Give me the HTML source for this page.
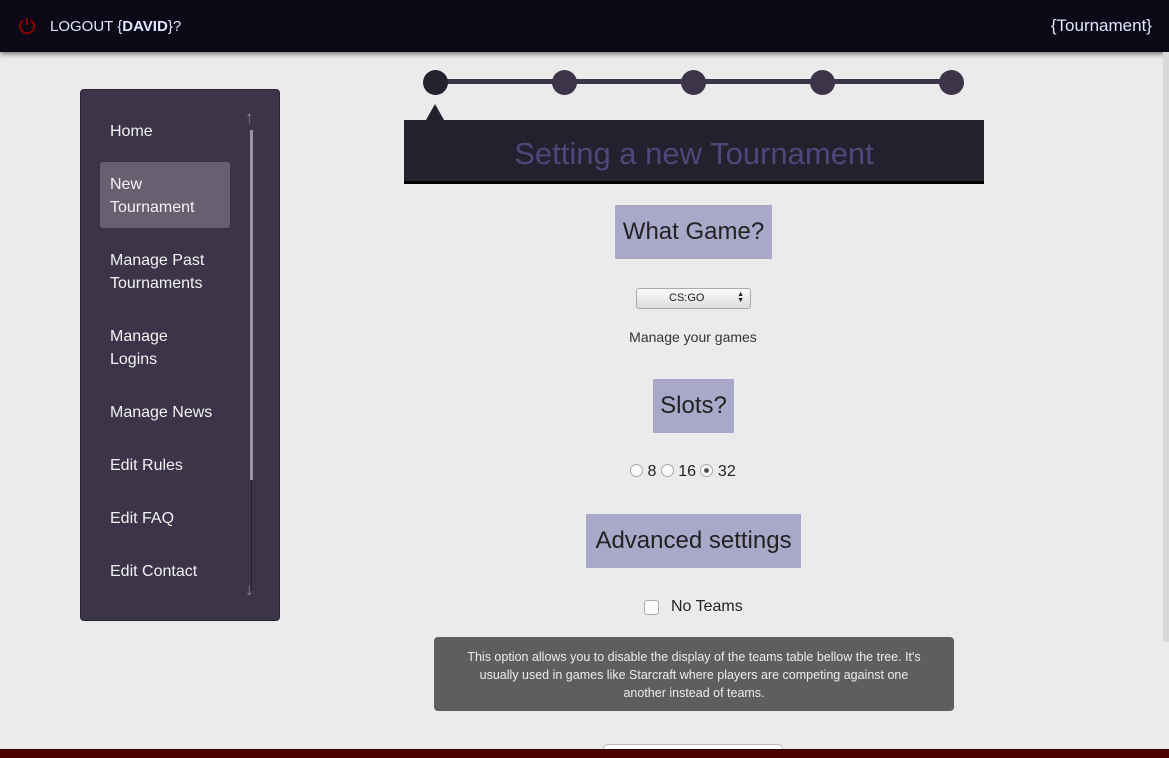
<!DOCTYPE html>
<html><head><style>
*{margin:0;padding:0;box-sizing:border-box}
body{width:1169px;height:758px;overflow:hidden;position:relative;background:#ebebeb;font-family:"Liberation Sans",sans-serif;}
.top{position:absolute;left:0;top:0;width:1169px;height:52px;background:#0b0916;box-shadow:0 2px 5px rgba(0,0,0,.5);color:#dfe6ff;font-size:15px}
.side{position:absolute;left:80px;top:89px;width:200px;height:532px;background:#3c3549;border-radius:4px;border:1px solid #2a2433}
.it{position:absolute;left:29px;color:#f2f2f2;font-size:16px;line-height:23px}
.dot{position:absolute;top:70px;width:25px;height:25px;border-radius:50%;background:#3c3549}
.lbl{position:absolute;background:#a9a8c8;color:#222;font-size:24px;text-align:center}
</style></head><body>
<div class="top">
<svg style="position:absolute;left:17px;top:16px" width="20" height="20" viewBox="0 0 20 20"><path d="M6 4.5A7 7 0 1 0 14 4.5" fill="none" stroke="#8b0000" stroke-width="2"/><line x1="10" y1="2" x2="10" y2="9" stroke="#8b0000" stroke-width="2"/></svg>
<div style="position:absolute;left:50px;top:18px">LOGOUT {<b>DAVID</b>}?</div>
<div style="position:absolute;right:17px;top:16px;font-size:17px">{Tournament}</div>
</div>
<div class="side">
<div style="position:absolute;left:19px;top:72px;width:130px;height:66px;background:#676070;border-radius:3px"></div>
<div class="it" style="top:30px">Home</div>
<div class="it" style="top:83px">New<br>Tournament</div>
<div class="it" style="top:159px">Manage Past<br>Tournaments</div>
<div class="it" style="top:235px">Manage<br>Logins</div>
<div class="it" style="top:311px">Manage News</div>
<div class="it" style="top:364px">Edit Rules</div>
<div class="it" style="top:417px">Edit FAQ</div>
<div class="it" style="top:470px">Edit Contact</div>
<div style="position:absolute;left:169px;top:40px;width:3px;height:350px;background:#9b96a6"></div>
<div style="position:absolute;left:170px;top:390px;width:1px;height:110px;background:#222"></div>
<div style="position:absolute;left:164px;top:18px;color:#8a8496;font-size:17px;font-weight:bold">↑</div>
<div style="position:absolute;left:164px;top:490px;color:#8a8496;font-size:17px;font-weight:bold">↓</div>
</div>
<div style="position:absolute;left:435px;top:79px;width:516px;height:5px;background:#3c3549"></div>
<div class="dot" style="left:423px;background:#25212f"></div>
<div class="dot" style="left:552px"></div>
<div class="dot" style="left:681px"></div>
<div class="dot" style="left:810px"></div>
<div class="dot" style="left:939px"></div>
<div style="position:absolute;left:426px;top:104px;border:9px solid transparent;border-bottom:16px solid #24212f;border-top:0"></div>
<div style="position:absolute;left:404px;top:120px;width:580px;height:64px;background:#24212f;border-bottom:3px solid #000;color:#4e477a;font-size:31px;text-align:center;line-height:68px">Setting a new Tournament</div>
<div class="lbl" style="left:615px;top:205px;width:157px;height:54px;line-height:54px">What Game?</div>
<div style="position:absolute;left:636px;top:288px;width:115px;height:21px;border:1px solid #aaa;border-radius:3px;background:linear-gradient(#fafafa,#ddd);font-size:11px;line-height:19px;padding-left:32px;color:#222">CS:GO<span style="position:absolute;right:6px;top:3px;font-size:7px;line-height:6px">▲<br>▼</span></div>
<div style="position:absolute;left:0;width:1386px;top:329px;text-align:center;font-size:14px;color:#333">Manage your games</div>
<div class="lbl" style="left:653px;top:379px;width:81px;height:54px;line-height:54px">Slots?</div>
<div style="position:absolute;left:630px;top:463px;font-size:16px;color:#222">
<span style="display:inline-block;width:13px;height:13px;border:1px solid #aaa;border-radius:50%;background:#fafafa;vertical-align:-1px"></span> 8
<span style="display:inline-block;width:13px;height:13px;border:1px solid #aaa;border-radius:50%;background:#fafafa;vertical-align:-1px"></span> 16
<span style="display:inline-block;width:13px;height:13px;border:1px solid #aaa;border-radius:50%;background:radial-gradient(#444 25%,#fafafa 35%);vertical-align:-1px"></span> 32</div>
<div class="lbl" style="left:586px;top:514px;width:215px;height:54px;line-height:54px">Advanced settings</div>
<div style="position:absolute;left:644px;top:600px;width:15px;height:15px;border:1px solid #aaa;border-radius:3px;background:#fafafa"></div>
<div style="position:absolute;left:671px;top:598px;font-size:16px;color:#222">No Teams</div>
<div style="position:absolute;left:434px;top:637px;width:520px;height:74px;background:#5e5e5e;border-radius:4px;color:#ececec;font-size:12.5px;line-height:18px;text-align:center;padding-top:11px">This option allows you to disable the display of the teams table bellow the tree. It's<br>usually used in games like Starcraft where players are competing against one<br>another instead of teams.</div>
<div style="position:absolute;left:603px;top:744px;width:180px;height:10px;border:1px solid #bbb;border-radius:6px;background:#fff"></div>
<div style="position:absolute;left:0;top:749px;width:1169px;height:9px;background:#4a0000"></div>
<div style="position:absolute;left:1163px;top:52px;width:6px;height:590px;background:#d8d8d8"></div>
</body></html>
